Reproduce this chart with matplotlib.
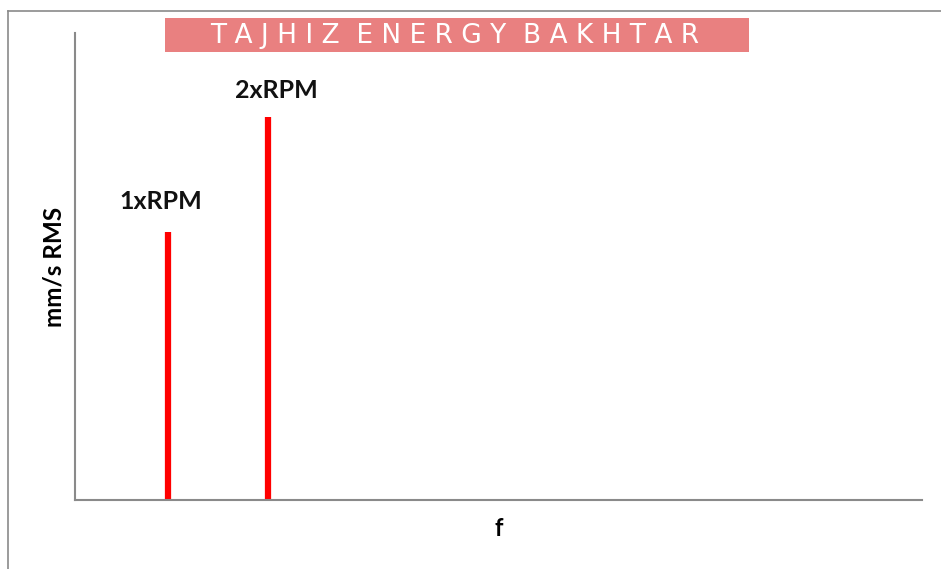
import matplotlib
matplotlib.use("Agg")
from matplotlib import pyplot as plt
from matplotlib.patches import Rectangle
from matplotlib.lines import Line2D

# data
orders = [1, 2]
amplitudes = [2.8, 4.0]
peak_labels = ["1xRPM", "2xRPM"]
title_text = "TAJHIZ ENERGY BAKHTAR"

fig = plt.figure(figsize=(9.41, 5.69), dpi=100)
fig.patch.set_facecolor("white")

# frame lines of the picture (left and top only)
fig.add_artist(Line2D([0.0085, 0.0085], [0, 0.9807], transform=fig.transFigure,
                      color="#8a8a8a", lw=1.2))
fig.add_artist(Line2D([0.0085, 1.0], [0.9807, 0.9807], transform=fig.transFigure,
                      color="#8a8a8a", lw=1.2))

ax = fig.add_axes([0.0797, 0.1213, 0.9001, 0.8207])
ax.vlines(orders, 0, amplitudes, color="#ff0000", lw=4.5)
label_offsets = [(-5, 22), (6, 19)]
for x, y, lab, off in zip(orders, amplitudes, peak_labels, label_offsets):
    ax.annotate(lab, (x, y), xytext=off, textcoords="offset points",
                ha="center", va="center", fontsize=18, fontweight="bold",
                family="Lato", color="#111111")

ax.set_xlim(0.07, 8.54)
ax.set_ylim(0, 4.88)
ax.set_xticks([])
ax.set_yticks([])
for s in ["top", "right"]:
    ax.spines[s].set_visible(False)
for s in ["left", "bottom"]:
    ax.spines[s].set_color("#8a8a8a")
    ax.spines[s].set_linewidth(1.5)

ax.set_xlabel("f", fontsize=17, fontweight="bold", family="Lato", labelpad=12)
ax.set_ylabel("mm/s RMS", fontsize=17.5, fontweight="bold", family="Lato", labelpad=7)

# banner
fig.add_artist(Rectangle((0.1753, 0.9086), 0.6206, 0.0598, transform=fig.transFigure,
                         facecolor="#e98080", edgecolor="none"))
fig.text(0.4835, 0.9375, "  ".join(" ".join(w) for w in title_text.split(" ")),
         ha="center", va="center", color="white", fontsize=19, family="DejaVu Sans")

fig.savefig("out.png", dpi=100)
